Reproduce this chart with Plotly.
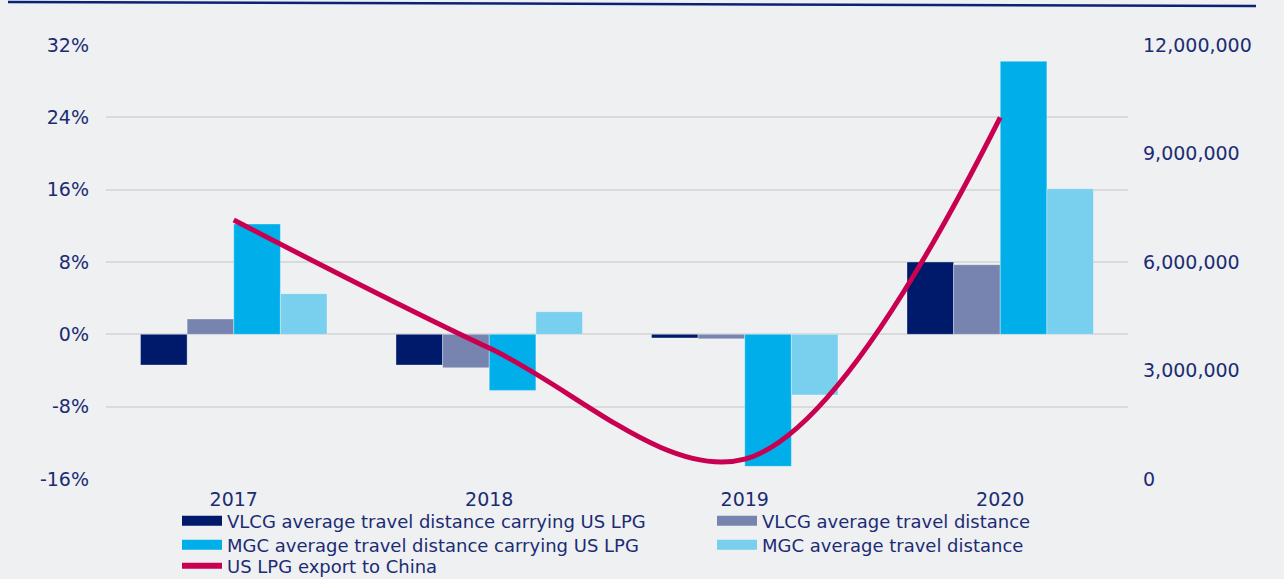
import plotly.graph_objects as go

years = ["2017", "2018", "2019", "2020"]
vlcg_carrying = [-3.4, -3.4, -0.4, 8.0]
vlcg_avg = [1.7, -3.7, -0.5, 7.7]
mgc_carrying = [12.2, -6.2, -14.6, 30.2]
mgc_avg = [4.5, 2.5, -6.7, 16.1]
us_lpg_china = [7160000, 3620000, 550000, 10000000]

names = [
    "VLCG average travel distance carrying US LPG",
    "VLCG average travel distance",
    "MGC average travel distance carrying US LPG",
    "MGC average travel distance",
]
line_name = "US LPG export to China"
colors = ["#001a6b", "#7884b0", "#00aeea", "#78cfee"]
line_color = "#c8004f"
text_color = "#1c2c72"
bg = "#eef0f2"
font_family = "DejaVu Sans, Verdana, sans-serif"

fig = go.Figure()
for vals, nm, c in zip([vlcg_carrying, vlcg_avg, mgc_carrying, mgc_avg], names, colors):
    fig.add_trace(go.Bar(
        x=years, y=vals, name=nm,
        marker=dict(color=c, line=dict(color="rgba(255,255,255,0.35)", width=1)),
        showlegend=False, yaxis="y",
    ))

fig.add_trace(go.Scatter(
    x=years, y=us_lpg_china, name=line_name, mode="lines",
    line=dict(color=line_color, width=5, shape="spline", smoothing=1.0),
    yaxis="y2", showlegend=False,
))

# legend proxies: one small legend per legend cell (2 columns x 3 rows)
legend_ids = ["legend", "legend2", "legend3", "legend4", "legend5"]
cell_pos = [(177, 521), (712, 521), (177, 545), (712, 545), (177, 566)]
for nm, c, lg in zip(names, colors, legend_ids[:4]):
    fig.add_trace(go.Scatter(x=[None], y=[None], mode="lines", name=nm, legend=lg,
                             line=dict(color=c, width=11), yaxis="y"))
fig.add_trace(go.Scatter(x=[None], y=[None], mode="lines", name=line_name, legend=legend_ids[4],
                         line=dict(color=line_color, width=6), yaxis="y"))

legend_common = dict(orientation="h", xref="container", yref="container",
                     xanchor="left", yanchor="middle",
                     font=dict(size=18, color=text_color, family=font_family),
                     bgcolor="rgba(0,0,0,0)", itemwidth=40, tracegroupgap=0)
legend_layout = {lg: dict(legend_common, x=px / 1284, y=1 - py / 579)
                 for lg, (px, py) in zip(legend_ids, cell_pos)}

fig.update_layout(
    width=1284, height=579,
    margin=dict(l=106, r=156, t=45, b=100, autoexpand=False),
    paper_bgcolor=bg, plot_bgcolor=bg,
    font=dict(family=font_family, color=text_color, size=17),
    barmode="group", bargap=0.27, bargroupgap=0,
    xaxis=dict(showgrid=False, zeroline=False, showline=False, ticks="",
               ticklabelstandoff=7, tickfont=dict(size=19, color=text_color)),
    yaxis=dict(range=[-16, 32], tickvals=[-16, -8, 0, 8, 16, 24, 32],
               ticktext=["-16%", "-8%", "0%", "8%", "16%", "24%", "32%"],
               showgrid=True, gridcolor="#d9dadc", gridwidth=1.5, zeroline=False,
               showline=False, ticks="", ticklabelstandoff=16,
               tickfont=dict(size=19, color=text_color)),
    yaxis2=dict(range=[0, 12000000], tickvals=[0, 3000000, 6000000, 9000000, 12000000],
                ticktext=["0", "3,000,000", "6,000,000", "9,000,000", "12,000,000"],
                overlaying="y", side="right", showgrid=False, zeroline=False,
                showline=False, ticks="", ticklabelstandoff=14,
                tickfont=dict(size=19, color=text_color)),
    shapes=[dict(type="line", xref="paper", yref="paper",
                 x0=(8 - 106) / 1022, y0=(479 - 2) / 434,
                 x1=(1256 - 106) / 1022, y1=(479 - 6) / 434,
                 line=dict(color="#0c2277", width=2.5))],
    **legend_layout,
)

fig.write_html("out.html", config={"displayModeBar": False},
               post_script="document.body.style.margin='0';document.body.style.background='%s';" % bg)
